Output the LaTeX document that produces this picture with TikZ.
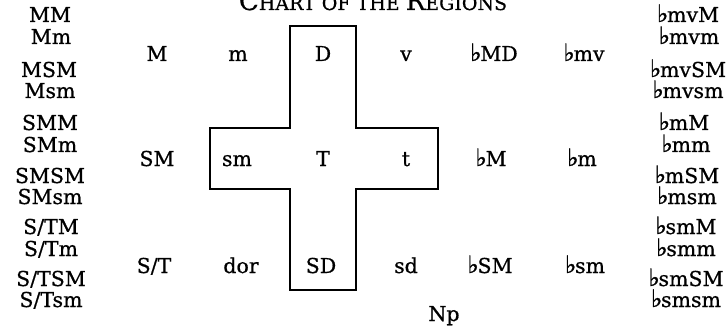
\documentclass[tikz,border=0pt]{standalone}
\usepackage{fontspec}
\setmainfont{DejaVu Serif}[FakeBold=0.7]
\newfontfamily\symfont{DejaVu Sans}[FakeBold=1.2]
\newcommand{\myflat}{\raisebox{0pt}[\height][0pt]{\symfont\fontsize{24}{26}\selectfont ♭}\kern-0.06em}
\newcommand{\bigf}{\fontsize{26}{28}\selectfont}
\newcommand{\smallf}{\fontsize{19}{21}\selectfont}
\tikzset{
  lbl/.style={anchor=base, inner sep=0pt, font=\fontsize{20.5}{22}\selectfont},
  crossline/.style={line width=1.8pt, line join=miter}
}
\begin{document}
\begin{tikzpicture}[x=1pt,y=-1pt]
\useasboundingbox (0,0) rectangle (727,331);
\clip (0,0) rectangle (727,331);
% title
\node[anchor=base, inner sep=0pt] (title) at (373,10)
  {\bigf C\smallf HART OF THE \bigf R\smallf EGIONS};
% cross
\draw[crossline] (290,26) -- (356,26) -- (356,128) -- (438,128) -- (438,189)
  -- (356,189) -- (356,290) -- (290,290) -- (290,189) -- (210,189)
  -- (210,128) -- (290,128) -- cycle;
% main grid
\node[lbl] (M)   at (157,61) {M};
\node[lbl] (m)   at (238,61) {m};
\node[lbl] (D)   at (323,61) {D};
\node[lbl] (v)   at (406,61) {v};
\node[lbl] (bMD) at (494,61) {\myflat MD};
\node[lbl] (bmv) at (584,61) {\myflat mv};
\node[lbl] (SM)  at (157,166) {SM};
\node[lbl] (sm)  at (237,166) {sm};
\node[lbl] (T)   at (323,166) {T};
\node[lbl] (t)   at (406,166) {t};
\node[lbl] (bM)  at (491,166) {\myflat M};
\node[lbl] (bm)  at (582,166) {\myflat m};
\node[lbl] (ST)  at (154,273) {S/T};
\node[lbl] (dor) at (241,273) {dor};
\node[lbl] (SD)  at (321,273) {SD};
\node[lbl] (sd)  at (406,273) {sd};
\node[lbl] (bSM) at (490,273) {\myflat SM};
\node[lbl] (bsm) at (585,273) {\myflat sm};
\node[lbl] (Np)  at (444,321) {Np};
% left list
\node[lbl] (l1)  at (50,22)  {MM};
\node[lbl] (l2)  at (51,44)  {Mm};
\node[lbl] (l3)  at (49,77)  {MSM};
\node[lbl] (l4)  at (50,98)  {Msm};
\node[lbl] (l5)  at (50,130) {SMM};
\node[lbl] (l6)  at (50,152) {SMm};
\node[lbl] (l7)  at (50,183) {SMSM};
\node[lbl] (l8)  at (50,204) {SMsm};
\node[lbl] (l9)  at (51,234) {S/TM};
\node[lbl] (l10) at (51,256) {S/Tm};
\node[lbl] (l11) at (51,286) {S/TSM};
\node[lbl] (l12) at (51,307) {S/Tsm};
% right list
\node[lbl] (r1)  at (688,22)  {\myflat mvM};
\node[lbl] (r2)  at (689,44)  {\myflat mvm};
\node[lbl] (r3)  at (688,77)  {\myflat mvSM};
\node[lbl] (r4)  at (688,98)  {\myflat mvsm};
\node[lbl] (r5)  at (684,130) {\myflat mM};
\node[lbl] (r6)  at (686,152) {\myflat mm};
\node[lbl] (r7)  at (687,183) {\myflat mSM};
\node[lbl] (r8)  at (687,204) {\myflat msm};
\node[lbl] (r9)  at (686,234) {\myflat smM};
\node[lbl] (r10) at (686,256) {\myflat smm};
\node[lbl] (r11) at (686,286) {\myflat smSM};
\node[lbl] (r12) at (686,307) {\myflat smsm};
\end{tikzpicture}
\end{document}
